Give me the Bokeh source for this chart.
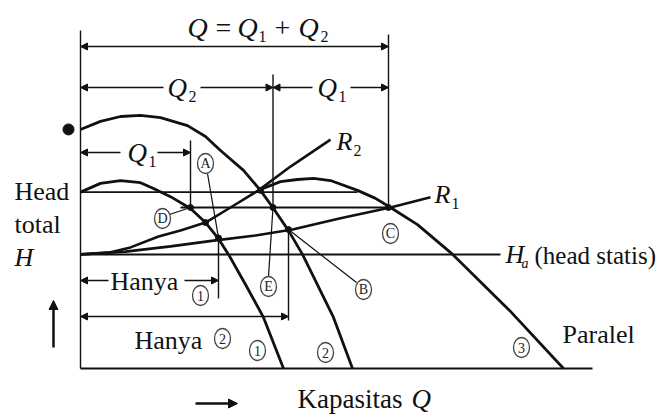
from bokeh.plotting import figure
from bokeh.models import Range1d, Arrow, NormalHead
from bokeh.core.properties import value
from bokeh.embed import file_html
from bokeh.resources import INLINE

# ---------------- data (capacity Q, head H; arbitrary units) ----------------
pump1_Q = [0, 4, 8, 12, 14.6, 18, 22, 25, 27.6, 29.6, 33, 36.6, 40.6]
pump1_H = [50.4, 52.9, 53.7, 53.1, 51.4, 49.1, 45.7, 41.7, 37.1, 32.6, 24.0, 14.6, 0]
pump2_Q = [0, 4, 8, 12, 16, 21.4, 25, 28, 32.6, 36, 38.6, 41.6, 44.4, 50.6, 54.4]
pump2_H = [68.3, 70.6, 72.0, 72.3, 71.7, 69.4, 66.3, 62.3, 56.6, 50.9, 45.7, 39.4, 32.6, 14.6, 0]
parallel_Q = [36.4, 40, 43.4, 46.6, 50, 55.4, 59, 62, 67.4, 74.2, 85.8, 96.6]
parallel_H = [51.4, 53.4, 54.0, 54.3, 53.7, 50.9, 48.6, 46.0, 41.1, 32.9, 16.6, 0]
R1_Q = [0, 9, 18, 27, 35, 42.4, 52, 62, 70]
R1_H = [32.6, 33.4, 34.9, 36.6, 38.0, 39.7, 42.9, 46.0, 48.9]
R2_Q = [0, 5.6, 10, 15.6, 20, 25, 30, 35.6, 42, 50]
R2_H = [32.6, 33.1, 34.6, 37.7, 39.4, 41.7, 46.0, 50.9, 57.7, 65.4]
Ha = 32.6
Q_max = 102.4

# operating points
C_Q, C_H = 61.6, 46.0          # parallel with R1
D_Q, E_Q = 22.0, 38.5          # pump 1 / pump 2 share at head of C
A_Q, A_H = 27.6, 37.3          # pump 1 alone with R1
B_Q, B_H = 41.6, 39.7          # pump 2 alone with R1
P1R2_Q, P1R2_H = 25.0, 41.7
P2R2_Q, P2R2_H = 36.0, 50.9

# --------------- layout helpers (page pixel -> data) ---------------
def X(px):
    return (px - 80) / 5.0

def Y(py):
    return (368 - py) / 3.5

p = figure(width=672, height=417, output_backend="svg", toolbar_location=None,
           x_range=Range1d(X(0), X(672)), y_range=Range1d(Y(417), Y(0)),
           min_border=0, outline_line_color=None)
p.xaxis.visible = False
p.yaxis.visible = False
p.grid.visible = False
p.background_fill_color = "white"
p.border_fill_color = "white"

INK = "#111111"
THIN = 1.4

def seg(x0, x1, y0, y1, w=THIN, c=INK):
    p.line([x0, x1], [y0, y1], line_color=c, line_width=w)

def dim(x0, x1, y, start=True, end=True):
    p.add_layout(Arrow(x_start=x0, y_start=y, x_end=x1, y_end=y,
                       start=NormalHead(size=7, fill_color=INK, line_color=INK) if start else None,
                       end=NormalHead(size=7, fill_color=INK, line_color=INK) if end else None,
                       line_color=INK, line_width=THIN))

FONT = value("Liberation Serif")

def txt(s, px, py, size=26, italic=False, align="left"):
    # py is the wanted baseline; place the text by its middle
    p.text(x=[X(px)], y=[Y(py - 0.34 * size)], text=[s], text_font=FONT,
           text_font_size=f"{size}px", text_font_style="italic" if italic else "normal",
           text_align=align, text_baseline="middle", text_color=INK)

def circled(s, px, py):
    p.ellipse(x=[X(px)], y=[Y(py)], width=16, height=20, width_units="screen",
              height_units="screen", fill_color="white", line_color="#444444", line_width=1.3)
    p.text(x=[X(px)], y=[Y(py)], text=[s], text_font=FONT, text_font_size="14px",
           text_align="center", text_baseline="middle", text_color="#222222")

# ---------------- frame & construction lines ----------------
seg(0, 0, 0, Y(30))                         # vertical head axis
seg(0, Q_max, 0, 0, w=2)                    # bottom capacity axis
seg(0, X(500), Ha, Ha, w=2)                 # static head line
seg(0, parallel_Q[5], pump1_H[0], pump1_H[0], w=1.8)
seg(X(180), C_Q, C_H, C_H, w=1.8)
seg(C_Q, C_Q, Y(34), C_H)
seg(E_Q, E_Q, Y(74), C_H)
seg(D_Q, D_Q, Y(140), C_H)
seg(A_Q, A_Q, A_H, Y(298))
seg(B_Q, B_Q, B_H, Y(320))

# dimension arrows
dim(0, C_Q, Y(46))
dim(0, X(163), Y(87), start=True, end=False)
dim(X(200), E_Q, Y(87), start=False, end=True)
dim(E_Q, X(312), Y(87), start=True, end=False)
dim(X(350), C_Q, Y(87), start=False, end=True)
dim(0, X(120), Y(152), start=True, end=False)
dim(X(157), D_Q, Y(152), start=False, end=True)
dim(0, X(108), Y(280), start=True, end=False)
dim(X(184), A_Q, Y(280), start=False, end=True)
dim(0, B_Q, Y(316))

# ---------------- curves ----------------
p.line(R1_Q, R1_H, line_color=INK, line_width=2.6)
p.line(R2_Q, R2_H, line_color=INK, line_width=2.6)
p.line(pump1_Q, pump1_H, line_color=INK, line_width=2.8)
p.line(pump2_Q, pump2_H, line_color=INK, line_width=2.8)
p.line(parallel_Q, parallel_H, line_color=INK, line_width=2.8)

# operating-point dots
p.scatter([A_Q, B_Q, C_Q, D_Q, E_Q, P1R2_Q, P2R2_Q],
          [A_H, B_H, C_H, C_H, C_H, P1R2_H, P2R2_H],
          size=6, color=INK)
p.scatter([X(68)], [pump2_H[0]], size=11, color=INK)

# leaders
seg(X(207), A_Q, Y(173), A_H, w=1.2)
seg(X(169), D_Q, Y(214), C_H, w=1.2)
seg(X(268), E_Q, Y(276), C_H, w=1.2)
seg(B_Q, X(356), B_H, Y(282), w=1.2)

# side arrows
p.add_layout(Arrow(x_start=X(53), y_start=Y(347), x_end=X(53), y_end=Y(300),
                   end=NormalHead(size=9, fill_color=INK, line_color=INK),
                   line_color=INK, line_width=2.5))
p.add_layout(Arrow(x_start=X(195), y_start=Y(403), x_end=X(237), y_end=Y(403),
                   end=NormalHead(size=9, fill_color=INK, line_color=INK),
                   line_color=INK, line_width=2.5))

# ---------------- texts ----------------
# Q = Q1 + Q2
txt("Q", 187, 37, size=28, italic=True)
txt("=", 223, 37, size=28, align="center")
txt("Q", 237, 37, size=28, italic=True)
txt("1", 258, 41, size=16)
txt("+", 282, 37, size=28, align="center")
txt("Q", 298, 37, size=28, italic=True)
txt("2", 320, 41, size=16)
# Q2 / Q1
txt("Q", 167, 97, size=27, italic=True)
txt("2", 188, 101, size=16)
txt("Q", 317, 97, size=27, italic=True)
txt("1", 338, 101, size=16)
txt("Q", 127, 162, size=27, italic=True)
txt("1", 148, 166, size=16)
# axis texts
txt("Head", 14, 200)
txt("total", 14, 233)
txt("H", 14, 266, italic=True)
txt("Kapasitas", 297, 408, size=27)
txt("Q", 411, 408, size=27, italic=True)
txt("Hanya", 110, 290)
txt("Hanya", 134, 349)
txt("Paralel", 562, 343)
txt("R", 336, 150, italic=True)
txt("2", 353, 155, size=16)
txt("R", 434, 203, italic=True)
txt("1", 451, 208, size=16)
txt("H", 505, 263, italic=True)
txt("a", 521, 268, size=14, italic=True)
txt("(head statis)", 534, 263, size=25)

# circled markers
circled("A", 205, 163)
circled("D", 162, 218)
circled("E", 268, 286)
circled("B", 363, 289)
circled("C", 390, 233)
circled("1", 200, 295)
circled("2", 222, 338)
circled("1", 257, 350)
circled("2", 325, 352)
circled("3", 521, 347)

open("out.html", "w").write(file_html(p, INLINE))
